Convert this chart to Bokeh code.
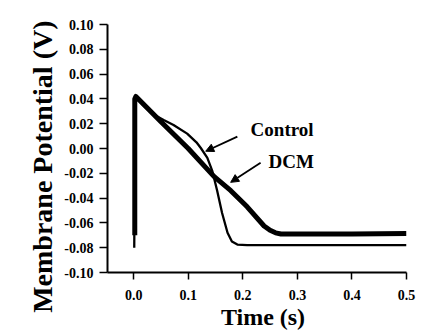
from bokeh.plotting import figure
from bokeh.models import Range1d, FixedTicker, Label, Arrow, NormalHead, Title
from bokeh.embed import file_html
from bokeh.resources import INLINE

# ---- data ----
control_t = [0.001, 0.003, 0.015, 0.034, 0.055, 0.073, 0.098, 0.115, 0.123, 0.135,
             0.144, 0.153, 0.162, 0.172, 0.180, 0.190, 0.208, 0.250, 0.300, 0.400, 0.500]
control_v = [-0.080, 0.042, 0.036, 0.028, 0.023, 0.019, 0.012, 0.005, 0.0004, -0.0075,
             -0.018, -0.034, -0.052, -0.068, -0.075, -0.0775, -0.078, -0.078, -0.078, -0.078, -0.078]

dcm_t = [0.002, 0.002, 0.004, 0.050, 0.100, 0.147, 0.178, 0.208, 0.239, 0.250, 0.260,
         0.270, 0.300, 0.400, 0.500]
dcm_v = [-0.070, 0.040, 0.042, 0.0215, 0.000, -0.0225, -0.034, -0.047, -0.0625, -0.066, -0.068,
         -0.069, -0.069, -0.069, -0.0685]

x_ticks = [0.0, 0.1, 0.2, 0.3, 0.4, 0.5]
x_labels = ["0.0", "0.1", "0.2", "0.3", "0.4", "0.5"]
y_ticks = [0.10, 0.08, 0.06, 0.04, 0.02, 0.0, -0.02, -0.04, -0.06, -0.08, -0.10]
y_labels = ["0.10", "0.08", "0.06", "0.04", "0.02", "0.00", "-0.02", "-0.04", "-0.06", "-0.08", "-0.10"]

FONT = "Liberation Serif"
NB = "\u00a0"

p = figure(width=421, height=332, output_backend="svg", toolbar_location=None,
           x_range=Range1d(-0.048, 0.5), y_range=Range1d(-0.10, 0.10),
           min_border_left=107, min_border_right=15, min_border_top=24, min_border_bottom=55)
p.outline_line_color = None
p.xgrid.visible = False
p.ygrid.visible = False
p.background_fill_color = "white"
p.border_fill_color = "white"

p.line(control_t, control_v, line_width=2.3, color="black", line_join="round")
p.line(dcm_t, dcm_v, line_width=5, color="black", line_join="round")

for ax in (p.xaxis[0], p.yaxis[0]):
    ax.axis_line_width = 2
    ax.axis_line_color = "black"
    ax.major_tick_line_width = 1.5
    ax.major_tick_line_color = "black"
    ax.minor_tick_line_color = None
    ax.major_tick_in = 0
    ax.major_label_text_font = FONT
    ax.major_label_text_font_style = "bold"
    ax.major_label_text_font_size = "14px"
    ax.major_label_text_color = "black"
    ax.axis_label_text_font = FONT
    ax.axis_label_text_font_style = "bold"
    ax.axis_label_text_color = "black"

p.xaxis.ticker = FixedTicker(ticks=x_ticks)
p.xaxis.major_label_overrides = dict(zip(x_ticks, x_labels))
p.xaxis.major_tick_out = 7
p.xaxis.major_label_standoff = 10
p.xaxis.axis_label = NB * 2 + "Time (s)"
p.xaxis.axis_label_text_font_size = "24px"
p.xaxis.axis_label_standoff = 1

p.yaxis.ticker = FixedTicker(ticks=y_ticks)
p.yaxis.major_label_overrides = dict(zip(y_ticks, y_labels))
p.yaxis.major_tick_out = 8
p.yaxis.major_label_standoff = 6

ytitle = Title(text="Membrane Potential (V)", align="right", offset=-4, standoff=7,
               text_font=FONT, text_font_style="bold", text_font_size="28px",
               text_color="black")
p.add_layout(ytitle, "left")

# annotations
p.add_layout(Label(x=0.2143, y=0.0154, text="Control", text_align="left",
                   text_baseline="middle", text_font=FONT, text_font_style="bold",
                   text_font_size="19px", text_color="black"))
p.add_layout(Label(x=0.247, y=-0.0103, text="DCM", text_align="left",
                   text_baseline="middle", text_font=FONT, text_font_style="bold",
                   text_font_size="19px", text_color="black"))
p.add_layout(Arrow(x_start=0.190, y_start=0.0096, x_end=0.132, y_end=-0.0022,
                   line_width=1.8, line_color="black",
                   end=NormalHead(size=8, fill_color="black", line_color="black")))
p.add_layout(Arrow(x_start=0.2326, y_start=-0.0115, x_end=0.1777, y_end=-0.0273,
                   line_width=1.8, line_color="black",
                   end=NormalHead(size=8, fill_color="black", line_color="black")))

open("out.html", "w").write(file_html(p, INLINE))
